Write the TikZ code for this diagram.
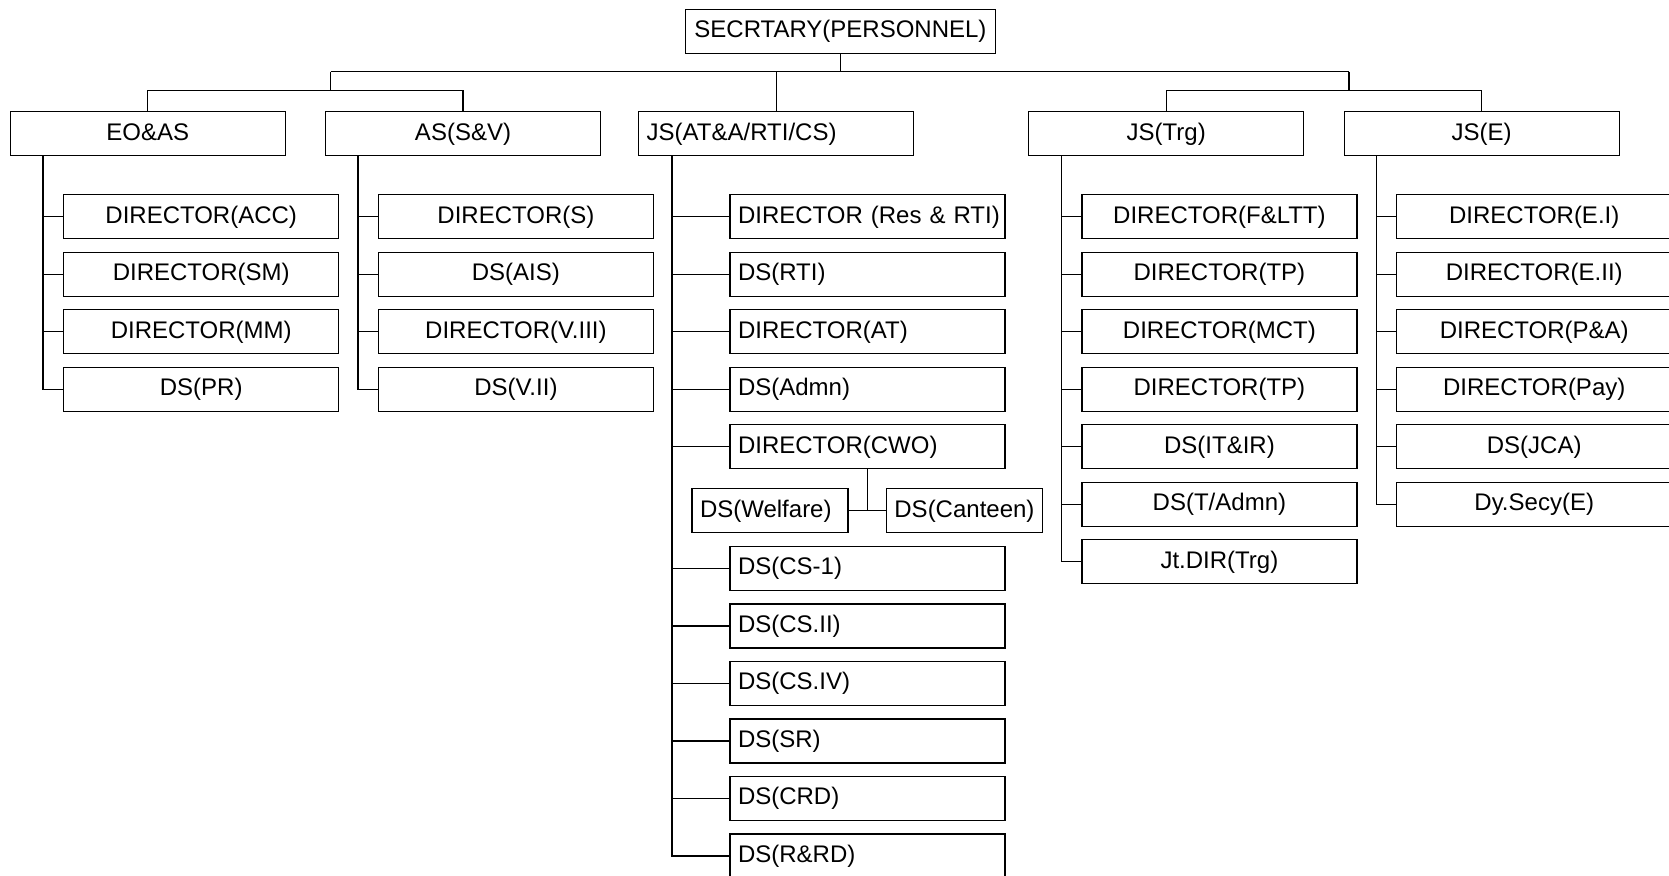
\documentclass[tikz,border=0pt]{standalone}
\usepackage{fontspec}
\setmainfont{Liberation Sans}
\begin{document}
\begin{tikzpicture}[x=0.5pt,y=-0.5pt,
  font=\fontsize{12}{14}\selectfont,
  line width=0.7pt,
  box/.style={draw, rectangle, line width=0.7pt, inner sep=0pt, anchor=north west,
    minimum height=22pt, text height=10pt, text depth=3.5pt},
  cbox/.style={box, minimum width=137.5pt},
  lbox/.style={box, text width=129.5pt, inner xsep=4pt, align=left},
  sbox/.style={box, text width=70pt, inner xsep=4pt, align=left},
  topbox/.style={box, minimum width=155.25pt}]
\useasboundingbox (0,0) rectangle (1669,875);
\begin{scope}
\clip (0,0) rectangle (1669,875);
% top
\node[topbox] (sec) at (684.5,8.5) {SECRTARY(PERSONNEL)};
\node[cbox] (eo) at (9.5,111) {EO\&AS};
\node[cbox] (as) at (324.8,111) {AS(S\&V)};
\node[lbox] (js) at (638,111) {JS(AT\&A/RTI/CS)};
\node[cbox] (trg) at (1028,111) {JS(Trg)};
\node[cbox] (je) at (1343.5,111) {JS(E)};
% EO&AS children
\node[cbox] (eo1) at (63,194) {DIRECTOR(ACC)};
\node[cbox] (eo2) at (63,251.5) {DIRECTOR(SM)};
\node[cbox] (eo3) at (63,309) {DIRECTOR(MM)};
\node[cbox] (eo4) at (63,366.5) {DS(PR)};
% AS children
\node[cbox] (as1) at (377.7,194) {DIRECTOR(S)};
\node[cbox] (as2) at (377.7,251.5) {DS(AIS)};
\node[cbox] (as3) at (377.7,309) {DIRECTOR(V.III)};
\node[cbox] (as4) at (377.7,366.5) {DS(V.II)};
% JS children
\node[lbox] (js1) at (729.3,194) {\mbox{DIRECTOR (Res \& RTI)}};
\node[lbox] (js2) at (729.3,251.5) {DS(RTI)};
\node[lbox] (js3) at (729.3,309) {DIRECTOR(AT)};
\node[lbox] (js4) at (729.3,366.5) {DS(Admn)};
\node[lbox] (cwo) at (729.3,424) {DIRECTOR(CWO)};
\node[sbox] (wel) at (691.3,488) {\mbox{DS(Welfare)}};
\node[sbox] (can) at (885.7,488) {\mbox{DS(Canteen)}};
\node[lbox] (js6) at (729.3,545.7) {DS(CS-1)};
\node[lbox] (js7) at (729.3,603.2) {DS(CS.II)};
\node[lbox] (js8) at (729.3,660.7) {DS(CS.IV)};
\node[lbox] (js9) at (729.3,718.2) {DS(SR)};
\node[lbox] (js10) at (729.3,775.7) {DS(CRD)};
\node[lbox] (js11) at (729.3,833.2) {DS(R\&RD)};
% Trg children
\node[cbox] (tr1) at (1081.2,194) {DIRECTOR(F\&LTT)};
\node[cbox] (tr2) at (1081.2,251.5) {DIRECTOR(TP)};
\node[cbox] (tr3) at (1081.2,309) {DIRECTOR(MCT)};
\node[cbox] (tr4) at (1081.2,366.5) {DIRECTOR(TP)};
\node[cbox] (tr5) at (1081.2,424) {DS(IT\&IR)};
\node[cbox] (tr6) at (1081.2,481.5) {DS(T/Admn)};
\node[cbox] (tr7) at (1081.2,539) {Jt.DIR(Trg)};
% JS(E) children
\node[cbox] (e1) at (1396,194) {DIRECTOR(E.I)};
\node[cbox] (e2) at (1396,251.5) {DIRECTOR(E.II)};
\node[cbox] (e3) at (1396,309) {DIRECTOR(P\&A)};
\node[cbox] (e4) at (1396,366.5) {DIRECTOR(Pay)};
\node[cbox] (e5) at (1396,424) {DS(JCA)};
\node[cbox] (e6) at (1396,481.5) {Dy.Secy(E)};
% buses
\coordinate (bL) at (330.7,71.5);
\coordinate (bR) at (1349,71.5);
\coordinate (mL) at (330.7,90.7);
\coordinate (mR) at (1349,90.7);
\draw (sec.south) -- (sec.south |- bL);
\draw (bL) -- (bR);
\draw (bL) -- (mL);
\draw (bR) -- (mR);
\draw (eo.north) |- (mL) -| (as.north);
\draw (trg.north) |- (mR) -| (je.north);
\draw (js.north) -- (js.north |- bL);
% trunks
\coordinate (eoT) at (43,155);
\coordinate (asT) at (358,155);
\coordinate (jsT) at (672,155);
\coordinate (trT) at (1061.3,155);
\coordinate (eT) at (1376.3,155);
\foreach \c in {eo1,eo2,eo3,eo4} \draw (eoT) |- (\c.west);
\foreach \c in {as1,as2,as3,as4} \draw (asT) |- (\c.west);
\foreach \c in {js1,js2,js3,js4,cwo,js6,js7,js8,js9,js10,js11} \draw (jsT) |- (\c.west);
\foreach \c in {tr1,tr2,tr3,tr4,tr5,tr6,tr7} \draw (trT) |- (\c.west);
\foreach \c in {e1,e2,e3,e4,e5,e6} \draw (eT) |- (\c.west);
% CWO sub-units
\draw (cwo.south) -- (cwo.south |- wel.east);
\draw (wel.east) -- (can.west);
\end{scope}
\end{tikzpicture}
\end{document}
